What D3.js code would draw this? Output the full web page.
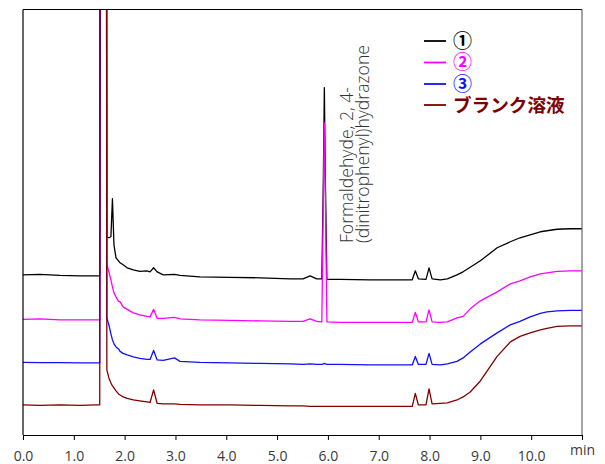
<!DOCTYPE html>
<html>
<head>
<meta charset="utf-8">
<script src="https://cdn.jsdelivr.net/npm/d3@7"></script>
<style>
  body { margin: 0; background: #fff; }
  svg { display: block; }
</style>
</head>
<body>
<div id="chart"></div>
<script>
// retention time (min), shared by all traces
var times = [0, 0.33, 0.73, 1.12, 1.42, 1.51, 1.575, 1.65, 1.69, 1.73, 1.76, 1.79, 1.83, 1.88, 1.91, 1.97,
  2.05, 2.17, 2.30, 2.44, 2.50, 2.57, 2.64, 2.76, 2.98, 3.09, 3.48, 4.07, 4.67, 5.26, 5.51, 5.65,
  5.78, 5.88, 5.91, 5.93, 5.95, 5.98, 6.24, 6.83, 7.42, 7.66, 7.72, 7.78, 7.93, 7.99, 8.05, 8.21,
  8.35, 8.54, 8.66, 8.80, 9.00, 9.33, 9.59, 9.78, 9.98, 10.18, 10.31, 10.51, 10.77, 11.0];

// detector signal (arbitrary units, traces are offset)
var sample1 = [32.0, 32.1, 31.9, 31.8, 31.8, 31.8, 900, 39.6, 39.4, 39.6, 47.2, 38.0, 35.4, 34.8, 34.4, 34.0,
  33.4, 33.0, 32.7, 32.8, 32.6, 33.4, 32.6, 32.0, 32.1, 31.9, 31.6, 31.5, 31.4, 31.2, 31.2, 31.8,
  31.2, 31.2, 51, 69.4, 51, 31.1, 31.1, 31.0, 31.0, 31.0, 32.8, 31.2, 31.1, 33.4, 31.2, 31.0,
  31.2, 32.0, 32.6, 33.5, 34.8, 37.4, 38.6, 39.4, 40.0, 40.6, 40.8, 41.1, 41.2, 41.2];

var sample2 = [23.1, 23.2, 23.0, 23.0, 23.0, 23.0, 900, 34.0, 32.6, 31.0, 29.6, 28.4, 27.6, 26.7, 26.6, 25.6,
  25.1, 24.4, 24.0, 23.7, 23.6, 25.1, 23.3, 23.3, 23.5, 23.2, 23.0, 22.9, 22.8, 22.7, 22.7, 23.2,
  22.7, 22.6, 47, 62.4, 47, 22.6, 22.5, 22.5, 22.5, 22.5, 24.5, 22.6, 22.6, 25.0, 22.6, 22.5,
  22.6, 23.4, 23.7, 25.2, 26.8, 28.6, 30.2, 30.8, 31.6, 32.2, 32.4, 32.7, 32.8, 32.8];

var sample3 = [14.5, 14.46, 14.46, 14.4, 14.4, 14.4, 900, 23.4, 22.0, 20.2, 19.0, 18.2, 17.6, 17.2, 16.7, 16.3,
  16.0, 15.6, 15.3, 15.1, 15.1, 16.9, 15.0, 14.9, 15.4, 14.7, 14.5, 14.4, 14.3, 14.2, 14.1, 14.2,
  14.1, 14.1, 14.2, 14.3, 14.2, 14.1, 14.1, 14.0, 14.0, 14.0, 15.7, 14.1, 14.1, 16.3, 14.1, 14.0,
  14.2, 14.7, 15.4, 16.6, 18.2, 20.4, 22.0, 22.7, 23.6, 24.3, 24.6, 24.8, 24.9, 24.9];

var blank = [6.0, 5.9, 6.0, 5.9, 6.0, 6.0, 900, 13.0, 11.4, 10.4, 9.8, 9.4, 8.8, 8.2, 8.0, 7.6,
  7.3, 7.0, 6.8, 6.6, 6.5, 9.0, 6.3, 6.2, 6.2, 6.1, 6.0, 6.0, 5.9, 5.8, 5.8, 5.7,
  5.7, 5.7, 5.7, 5.7, 5.7, 5.7, 5.7, 5.7, 5.7, 5.7, 8.3, 6.0, 6.0, 9.2, 6.2, 6.3,
  6.4, 7.0, 7.6, 8.6, 10.8, 15.7, 18.6, 19.7, 20.4, 21.0, 21.3, 21.7, 21.8, 21.8];

var legendLabels = ["①", "②", "③", "ブランク溶液"];
var xTicks = [0, 1, 2, 3, 4, 5, 6, 7, 8, 9, 10, 11];
var peakLabel = ["Formaldehyde, 2, 4-", "(dinitrophenyl)hydrazone"];

var width = 605, height = 464;
var plot = { left: 23, right: 582, top: 9.5, bottom: 435 };

var svg = d3.select("#chart").append("svg")
  .attr("width", width)
  .attr("height", height);

var x = d3.scaleLinear().domain([0, 11]).range([plot.left, plot.right]);
var y = d3.scaleLinear().domain([0, 85]).range([plot.bottom, plot.top]);

svg.append("clipPath").attr("id", "clip")
  .append("rect")
  .attr("x", plot.left).attr("y", plot.top)
  .attr("width", plot.right - plot.left).attr("height", plot.bottom - plot.top);

// traces
var series = [
  { values: sample1, color: "#000000" },
  { values: sample2, color: "#ff00ff" },
  { values: sample3, color: "#1010ff" },
  { values: blank, color: "#800000" }
];

var line = d3.line()
  .x(function(d) { return x(d[0]); })
  .y(function(d) { return y(d[1]); });

svg.append("g").attr("clip-path", "url(#clip)")
  .selectAll("path")
  .data(series)
  .enter()
  .append("path")
  .attr("d", function(s) { return line(times.map(function(t, i) { return [t, s.values[i]]; })); })
  .attr("fill", "none")
  .attr("stroke", function(s) { return s.color; })
  .attr("stroke-width", 1.3)
  .attr("stroke-linejoin", "round");

// frame
svg.append("line").attr("x1", plot.left).attr("x2", plot.right).attr("y1", plot.top).attr("y2", plot.top)
  .attr("stroke", "#000").attr("stroke-width", 1.2);
svg.append("line").attr("x1", plot.left).attr("x2", plot.left).attr("y1", plot.top).attr("y2", plot.bottom)
  .attr("stroke", "#000").attr("stroke-width", 1.2);
svg.append("line").attr("x1", plot.right).attr("x2", plot.right).attr("y1", plot.top).attr("y2", plot.bottom)
  .attr("stroke", "#666").attr("stroke-width", 1.2);

// x axis
var xAxis = d3.axisBottom(x)
  .tickValues(xTicks)
  .tickSize(5)
  .tickSizeOuter(0)
  .tickPadding(11)
  .tickFormat(function(d) { return d === 11 ? "min" : d.toFixed(1); });

var gx = svg.append("g")
  .attr("transform", "translate(0," + plot.bottom + ")")
  .call(xAxis);
gx.select(".domain").attr("stroke", "#000").attr("stroke-width", 1.2);
gx.selectAll(".tick line").attr("stroke", "#000");
gx.selectAll(".tick text")
  .attr("fill", "#3a3a3a")
  .style("font-family", "'Open Sans', sans-serif")
  .style("font-size", "14px");
gx.selectAll(".tick text").filter(function(d) { return d === 11; })
  .attr("y", 10);

// peak annotation
svg.append("g")
  .selectAll("text")
  .data(peakLabel)
  .enter()
  .append("text")
  .attr("transform", function(d, i) { return "translate(" + (352.5 + i * 16.5) + ",243) rotate(-90)"; })
  .attr("fill", "#333")
  .style("font-family", "'Open Sans', sans-serif")
  .style("font-weight", 300)
  .style("font-size", "17.6px")
  .text(function(d) { return d; });

// legend
var legend = svg.append("g")
  .selectAll("g")
  .data(series)
  .enter()
  .append("g")
  .attr("transform", function(d, i) { return "translate(424," + [41, 62.5, 84, 105][i] + ")"; });

legend.append("line")
  .attr("x1", 0).attr("x2", 22)
  .attr("stroke", function(s) { return s.color; })
  .attr("stroke-width", 1.8);

legend.append("text")
  .attr("x", 29)
  .attr("dy", "0.36em")
  .attr("fill", function(s) { return s.color; })
  .style("font-family", "'Noto Sans CJK JP', sans-serif")
  .style("font-weight", 700)
  .style("font-size", function(s, i) { return i < 3 ? "19px" : "18.6px"; })
  .text(function(s, i) { return legendLabels[i]; });
</script>
</body>
</html>
